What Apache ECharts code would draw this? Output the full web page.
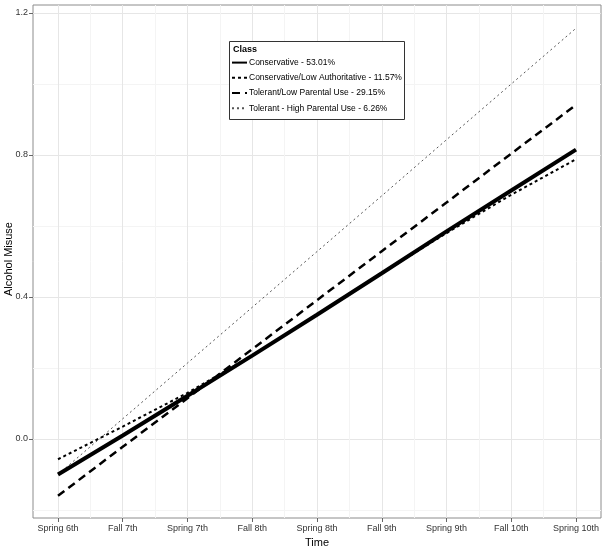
<!DOCTYPE html>
<html>
<head>
<meta charset="utf-8">
<script src="https://cdn.jsdelivr.net/npm/echarts@6/dist/echarts.min.js"></script>
<style>
html,body{margin:0;padding:0;background:#fff;}
#chart{width:605px;height:549px;}
</style>
</head>
<body>
<div id="chart"></div>
<script>
var timeLabels = ['Spring 6th','Fall 7th','Spring 7th','Fall 8th','Spring 8th','Fall 9th','Spring 9th','Fall 10th','Spring 10th'];
var seriesNames = ['Conservative - 53.01%','Conservative/Low Authoritative - 11.57%','Tolerant/Low Parental Use - 29.15%','Tolerant - High Parental Use - 6.26%'];
var conservative = [-0.100, 0.010, 0.122, 0.235, 0.350, 0.467, 0.585, 0.700, 0.815];
var consLowAuth = [-0.057, 0.035, 0.130, 0.235, 0.350, 0.467, 0.580, 0.688, 0.788];
var tolerantLow = [-0.160, -0.022, 0.115, 0.253, 0.391, 0.529, 0.666, 0.804, 0.941];
var tolerantHigh = [-0.100, 0.057, 0.214, 0.371, 0.528, 0.685, 0.843, 1.000, 1.157];
var yTicks = [0.0, 0.4, 0.8, 1.2];
var yMinorTicks = [-0.2, 0.2, 0.6, 1.0];

var xIdx = timeLabels.map(function(_, i){ return i; });
var xMinor = xIdx.slice(0, -1).map(function(i){ return i + 0.5; });
function pairs(arr){ return arr.map(function(v, i){ return [i, v]; }); }

var font = 'Liberation Sans, Arial, sans-serif';
var chart = echarts.init(document.getElementById('chart'), null, {renderer:'canvas'});
var styles = [
  {width:4, type:'solid', color:'#000'},
  {width:2, type:[3,3], color:'#000'},
  {width:2.5, type:[8,5], color:'#000'},
  {width:1, type:[2,3], color:'#555'}
];
var datas = [conservative, consLowAuth, tolerantLow, tolerantHigh];

chart.setOption({
  animation:false,
  backgroundColor:'#fff',
  grid:{left:33, right:4, top:5, bottom:31, outerBoundsMode:'none', containLabel:false, show:true, borderColor:'#8c8c8c', borderWidth:1, backgroundColor:'transparent'},
  xAxis:[{
    type:'value', min:-0.386, max:8.386, gridIndex:0,
    axisLine:{show:false, onZero:false},
    axisTick:{show:true, length:4, lineStyle:{color:'#666'}, customValues:xIdx},
    axisLabel:{customValues:xIdx, formatter:function(v){ return timeLabels[Math.round(v)] || ''; }, color:'#333', fontSize:9, fontFamily:font, margin:6},
    splitLine:{show:true, lineStyle:{color:'#e6e6e6', width:1}},
    name:'Time', nameLocation:'middle', nameGap:18, nameTextStyle:{fontSize:11, color:'#000', fontFamily:font}
  },{
    type:'value', min:-0.386, max:8.386, gridIndex:0,
    axisLine:{show:false, onZero:false}, axisLabel:{show:false},
    axisTick:{show:false, customValues:xMinor},
    splitLine:{show:true, lineStyle:{color:'#f4f4f4', width:1}}
  }],
  yAxis:[{
    type:'value', min:-0.2225, max:1.2225,
    axisLine:{show:false, onZero:false},
    axisTick:{show:true, length:4, lineStyle:{color:'#666'}, customValues:yTicks},
    axisLabel:{customValues:yTicks, formatter:function(v){ return v.toFixed(1); }, color:'#333', fontSize:9, fontFamily:font, margin:5},
    splitLine:{show:true, lineStyle:{color:'#e6e6e6', width:1}}
  },{
    type:'value', min:-0.2225, max:1.2225,
    axisLine:{show:false, onZero:false}, axisLabel:{show:false},
    axisTick:{show:false, customValues:yMinorTicks},
    splitLine:{show:true, lineStyle:{color:'#f4f4f4', width:1}}
  }],
  legend:{
    orient:'vertical', left:226, top:52, itemWidth:15, itemHeight:14, itemGap:4, z:8,
    itemStyle:{opacity:0},
    textStyle:{fontSize:8.5, color:'#000', fontFamily:font, padding:[0,0,0,-3]},
    data:seriesNames, selectedMode:false
  },
  graphic:[
    {type:'rect', shape:{x:229.5, y:41.5, width:175, height:78}, style:{fill:'#fff', stroke:'#333', lineWidth:1}, z:7},
    {type:'text', left:233, top:45, style:{text:'Class', font:'bold 9px Liberation Sans, Arial, sans-serif', fill:'#000'}, z:8},
    {type:'text', x:3, y:259, rotation:Math.PI/2, style:{text:'Alcohol Misuse', font:'11px Liberation Sans, Arial, sans-serif', fill:'#000', align:'center', verticalAlign:'top'}, z:8}
  ],
  series: datas.map(function(d, i){
    return {
      name:seriesNames[i], type:'line', xAxisIndex:0, yAxisIndex:0,
      data:pairs(d), symbol:'none', smooth:false,
      lineStyle:{width:styles[i].width, type:styles[i].type, color:styles[i].color},
      itemStyle:{color:styles[i].color},
      z:5 - i
    };
  })
});
</script>
</body>
</html>
